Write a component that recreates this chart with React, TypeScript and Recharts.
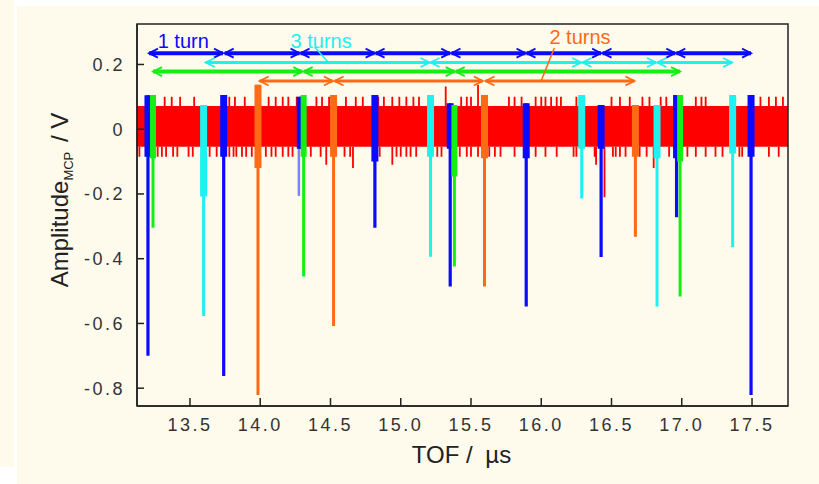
import React from "react";
import { Area, ComposedChart, Line, ReferenceArea, ReferenceDot, ReferenceLine, XAxis, YAxis } from "recharts";

const FONT = "'Liberation Sans', Arial, Helvetica, sans-serif";
const RED = "#ff0000";
const BLUE = "#0a0aff";
const LIGHTBLUE = "#7f7fff";
const CYAN = "#1ff0f0";
const GREEN = "#16ee16";
const ORANGE = "#ff6a14";

const xTicks = [13.5, 14, 14.5, 15, 15.5, 16, 16.5, 17, 17.5];
const yTicks = [-0.8, -0.6, -0.4, -0.2, 0, 0.2];
const xDomain: [number, number] = [13.123, 17.756];
const yDomain: [number, number] = [-0.855, 0.325];

// red MCP noise band
const noiseLow = -0.054;
const noiseHigh = 0.072;
const noiseUp = [
  13.32, 13.37, 13.43, 13.53, 13.78, 13.82, 13.89, 14.06, 14.11, 14.16, 14.2, 14.26, 14.4, 14.44,
  14.49, 14.61, 14.68, 14.73, 14.84, 14.88, 14.94, 14.99, 15.04, 15.09, 15.13, 15.43, 15.47, 15.5,
  15.77, 15.81, 15.86, 15.96, 16.0, 16.03, 16.07, 16.11, 16.14, 16.25, 16.5, 16.56, 16.63, 16.72,
  16.77, 16.85, 16.89, 17.1, 17.14, 17.17, 17.56, 17.62, 17.67, 17.72,
];
const noiseUpTall = [
  { tof: 15.32, tip: 0.132 },
  { tof: 15.55, tip: 0.137 },
];
const noiseDown = [
  13.14, 13.27, 13.3, 13.33, 13.38, 13.41, 13.49, 13.52, 13.64, 13.69, 13.78, 13.81, 13.83, 13.87,
  13.9, 13.94, 14.04, 14.08, 14.11, 14.16, 14.2, 14.23, 14.36, 14.43, 14.6, 14.64, 14.85, 14.97,
  15.0, 15.04, 15.07, 15.11, 15.26, 15.29, 15.42, 15.47, 15.5, 15.55, 15.63, 15.67, 15.71, 15.81,
  15.96, 16.03, 16.11, 16.23, 16.25, 16.38, 16.51, 16.53, 16.56, 16.6, 16.7, 16.75, 16.91, 17.04,
  17.1, 17.17, 17.24, 17.29, 17.41, 17.43, 17.62, 17.69,
];
const noiseDownDeep = [
  { tof: 14.47, tip: -0.11 },
  { tof: 14.66, tip: -0.12 },
  { tof: 14.94, tip: -0.11 },
  { tof: 16.39, tip: -0.11 },
  { tof: 16.45, tip: -0.21 },
  { tof: 16.8, tip: -0.12 },
];

type Peak = { tof: number; top: number; thickEnd: number; bottom: number };

const bluePeaks: Peak[] = [
  { tof: 13.201, top: 0.105, thickEnd: -0.085, bottom: -0.7 },
  { tof: 13.74, top: 0.106, thickEnd: -0.085, bottom: -0.762 },
  { tof: 14.285, top: 0.1, thickEnd: -0.06, bottom: -0.06 },
  { tof: 14.816, top: 0.106, thickEnd: -0.1, bottom: -0.304 },
  { tof: 15.352, top: 0.08, thickEnd: -0.06, bottom: -0.486 },
  { tof: 15.893, top: 0.08, thickEnd: -0.09, bottom: -0.548 },
  { tof: 16.426, top: 0.075, thickEnd: -0.06, bottom: -0.395 },
  { tof: 16.963, top: 0.106, thickEnd: -0.09, bottom: -0.272 },
  { tof: 17.493, top: 0.106, thickEnd: -0.085, bottom: -0.821 },
];
const lightBluePeaks: Peak[] = [{ tof: 14.275, top: 0.0, thickEnd: 0.0, bottom: -0.206 }];
const cyanPeaks: Peak[] = [
  { tof: 13.597, top: 0.075, thickEnd: -0.208, bottom: -0.577 },
  { tof: 15.212, top: 0.106, thickEnd: -0.085, bottom: -0.394 },
  { tof: 16.288, top: 0.106, thickEnd: -0.06, bottom: -0.214 },
  { tof: 16.824, top: 0.075, thickEnd: -0.09, bottom: -0.548 },
  { tof: 17.362, top: 0.106, thickEnd: -0.075, bottom: -0.365 },
];
const greenPeaks: Peak[] = [
  { tof: 13.237, top: 0.106, thickEnd: -0.09, bottom: -0.304 },
  { tof: 14.309, top: 0.106, thickEnd: -0.085, bottom: -0.455 },
  { tof: 15.382, top: 0.075, thickEnd: -0.146, bottom: -0.424 },
  { tof: 16.988, top: 0.106, thickEnd: -0.1, bottom: -0.517 },
];
const orangePeaks: Peak[] = [
  { tof: 13.984, top: 0.137, thickEnd: -0.12, bottom: -0.821 },
  { tof: 14.522, top: 0.106, thickEnd: -0.085, bottom: -0.608 },
  { tof: 15.596, top: 0.106, thickEnd: -0.09, bottom: -0.486 },
  { tof: 16.67, top: 0.075, thickEnd: -0.085, bottom: -0.332 },
];

// turn arrows: [start, end] in TOF, one row per colour
const blueArrowY = 0.235;
const blueArrows: [number, number][] = [
  [13.208, 13.735], [13.747, 14.28], [14.287, 14.814], [14.821, 15.352],
  [15.361, 15.888], [15.895, 16.426], [16.436, 16.954], [16.961, 17.493],
];
const cyanArrowY = 0.206;
const cyanArrows: [number, number][] = [
  [13.612, 15.205], [15.212, 16.284], [16.293, 16.817], [16.826, 17.358],
];
const greenArrowY = 0.178;
const greenArrows: [number, number][] = [
  [13.237, 14.299], [14.309, 15.384], [15.391, 16.988],
];
const orangeArrowY = 0.149;
const orangeArrows: [number, number][] = [
  [13.996, 14.517], [14.529, 15.584], [15.603, 16.663],
];

const annotations = [
  { text: "1 turn", tof: 13.27, amp: 0.25, color: BLUE },
  { text: "3 turns", tof: 14.216, amp: 0.25, color: CYAN },
  { text: "2 turns", tof: 16.058, amp: 0.262, color: ORANGE },
];
const leaders = [
  { from: [14.387, 0.254], to: [14.479, 0.209], color: CYAN },
  { from: [16.093, 0.251], to: [15.999, 0.149], color: ORANGE },
];

type Pt = { tof: number; v: number | null; dir?: number };

const spikes = (items: { tof: number; from: number; to: number }[]): Pt[] =>
  items.flatMap((s) => [
    { tof: s.tof, v: s.from },
    { tof: s.tof, v: s.to },
    { tof: s.tof, v: null },
  ]);

const upData = spikes([
  ...noiseUp.map((tof) => ({ tof, from: noiseHigh, to: 0.1 })),
  ...noiseUpTall.map((s) => ({ tof: s.tof, from: noiseHigh, to: s.tip })),
]);
const downData = spikes([
  ...noiseDown.map((tof) => ({ tof, from: noiseLow, to: -0.085 })),
  ...noiseDownDeep.map((s) => ({ tof: s.tof, from: noiseLow, to: s.tip })),
]);

const thin = (p: Peak[]) => spikes(p.map((k) => ({ tof: k.tof, from: k.top, to: k.bottom })));
const thick = (p: Peak[]) => spikes(p.map((k) => ({ tof: k.tof, from: k.top, to: k.thickEnd })));

const arrowData = (rows: [number, number][], y: number): Pt[] =>
  rows.flatMap(([a, b]) => [
    { tof: a, v: y, dir: -1 },
    { tof: b, v: y, dir: 1 },
    { tof: b, v: null, dir: 0 },
  ]);

const bandData = [
  { tof: xDomain[0], band: [noiseLow, noiseHigh] },
  { tof: xDomain[1], band: [noiseLow, noiseHigh] },
];

const arrowHead = (color: string) => (props: any) => {
  const { cx, cy, payload, index } = props;
  if (payload == null || payload.v == null || cx == null || cy == null) return <g key={`a-${index}`} />;
  const d = payload.dir;
  return (
    <polyline
      key={`a-${index}`}
      points={`${cx - d * 9},${cy - 4.5} ${cx},${cy} ${cx - d * 9},${cy + 4.5}`}
      fill="none"
      stroke={color}
      strokeWidth={1.8}
    />
  );
};

const seg = (key: string, data: Pt[], color: string, width: number) => (
  <Line
    key={key}
    data={data}
    dataKey="v"
    stroke={color}
    strokeWidth={width}
    strokeLinecap="butt"
    dot={false}
    activeDot={false}
    connectNulls={false}
    isAnimationActive={false}
    legendType="none"
  />
);

const arrowLine = (key: string, rows: [number, number][], y: number, color: string, width: number) => (
  <Line
    key={key}
    data={arrowData(rows, y)}
    dataKey="v"
    stroke={color}
    strokeWidth={width}
    dot={arrowHead(color)}
    activeDot={false}
    connectNulls={false}
    isAnimationActive={false}
  />
);

const YTitle = (props: any) => {
  const vb = props.viewBox || { x: 0, y: 24, width: 137, height: 382 };
  const x = vb.x + 68;
  const y = vb.y + vb.height / 2 - 15;
  return (
    <text
      x={x}
      y={y}
      transform={`rotate(-90, ${x}, ${y})`}
      textAnchor="middle"
      fontFamily={FONT}
      fontSize={24}
      fill="#222"
    >
      Amplitude
      <tspan fontSize={13} dy={5}>MCP</tspan>
      <tspan dy={-5} dx={3}> / V</tspan>
    </text>
  );
};

const XTitle = (props: any) => {
  const vb = props.viewBox || { x: 137, y: 406, width: 651, height: 78 };
  return (
    <text x={vb.x + vb.width / 2 - 1} y={vb.y + 57} textAnchor="middle" fontFamily={FONT} fontSize={24} fill="#222">
      TOF /<tspan dx={6}> µs</tspan>
    </text>
  );
};

const tickStyle = { fill: "#333", fontSize: 18, fontFamily: FONT, letterSpacing: 2.5 };

export default function App() {
  return (
    <div style={{ position: "absolute", left: 0, top: 0, width: 819, height: 484, background: "#ffffff", overflow: "hidden" }}>
      <div style={{ position: "absolute", left: 0, top: 0, width: 14, height: 467, background: "#fefaec" }} />
      <div style={{ position: "absolute", left: 17, top: 6, width: 802, height: 478, background: "#fefaec" }} />
      <div style={{ position: "absolute", left: 0, top: 0 }}>
        <ComposedChart width={819} height={484} data={bandData} margin={{ top: 24, right: 31, bottom: 0, left: 0 }}>
          <XAxis
            dataKey="tof"
            type="number"
            domain={xDomain}
            allowDataOverflow
            ticks={xTicks}
            tickFormatter={(v: number) => v.toFixed(1)}
            tick={tickStyle}
            tickSize={-8}
            tickMargin={20}
            height={78}
            axisLine={{ stroke: "#222", strokeWidth: 1.5 }}
            tickLine={{ stroke: "#222", strokeWidth: 1.5 }}
            label={{ content: (p: any) => <XTitle viewBox={p.viewBox} /> }}
          />
          <YAxis
            type="number"
            domain={yDomain}
            allowDataOverflow
            ticks={yTicks}
            tickFormatter={(v: number) => (v === 0 ? "0" : v.toFixed(1))}
            tick={tickStyle}
            tickSize={-7}
            tickMargin={19}
            width={137}
            axisLine={{ stroke: "#222", strokeWidth: 1.5 }}
            tickLine={{ stroke: "#222", strokeWidth: 1.5 }}
            label={{ content: (p: any) => <YTitle viewBox={p.viewBox} /> }}
          />
          <Area dataKey="band" fill={RED} fillOpacity={1} stroke="none" isAnimationActive={false} />
          {seg("up", upData, RED, 1.8)}
          {seg("down", downData, RED, 1.8)}
          {seg("lb-thin", thin(lightBluePeaks), LIGHTBLUE, 2.5)}
          {seg("c-thin", thin(cyanPeaks), CYAN, 3)}
          {seg("c-thick", thick(cyanPeaks), CYAN, 7)}
          {seg("o-thin", thin(orangePeaks), ORANGE, 3)}
          {seg("o-thick", thick(orangePeaks), ORANGE, 7)}
          {seg("b-thin", thin(bluePeaks), BLUE, 3.2)}
          {seg("b-thick", thick(bluePeaks), BLUE, 7)}
          {seg("g-thin", thin(greenPeaks), GREEN, 3)}
          {seg("g-thick", thick(greenPeaks), GREEN, 6)}
          {arrowLine("ab", blueArrows, blueArrowY, BLUE, 4)}
          {arrowLine("ac", cyanArrows, cyanArrowY, CYAN, 3)}
          {arrowLine("ag", greenArrows, greenArrowY, GREEN, 4)}
          {arrowLine("ao", orangeArrows, orangeArrowY, ORANGE, 3)}
          {leaders.map((l, i) => (
            <ReferenceLine
              key={`l-${i}`}
              segment={[{ x: l.from[0], y: l.from[1] }, { x: l.to[0], y: l.to[1] }]}
              stroke={l.color}
              strokeWidth={1.5}
            />
          ))}
          {annotations.map((a) => (
            <ReferenceDot
              key={a.text}
              x={a.tof}
              y={a.amp}
              r={0}
              shape={(p: any) => (
                <text x={p.cx} y={p.cy} fill={a.color} fontFamily={FONT} fontSize={20}>
                  {a.text}
                </text>
              )}
            />
          ))}
          <ReferenceArea
            x1={xDomain[0]}
            x2={xDomain[1]}
            y1={yDomain[0]}
            y2={yDomain[1]}
            fill="none"
            stroke="#222"
            strokeWidth={1.5}
            ifOverflow="visible"
          />
        </ComposedChart>
      </div>
    </div>
  );
}
